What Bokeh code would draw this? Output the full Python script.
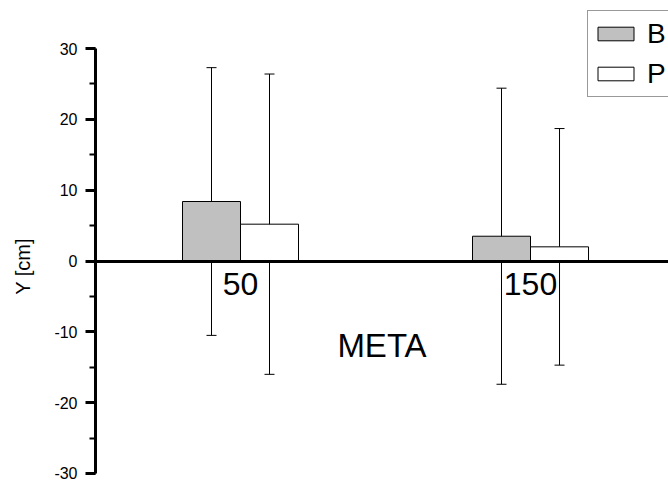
import math
from bokeh.plotting import figure
from bokeh.models import (ColumnDataSource, Range1d, LinearAxis, FixedTicker, Label,
                          SingleIntervalTicker, Whisker, TeeHead, Legend, LegendItem)
from bokeh.transform import dodge
from bokeh.embed import file_html
from bokeh.resources import INLINE

# ---- data ----
groups = [50, 150]
group_labels = ["50", "150"]
b_vals = [8.4, 3.5]
p_vals = [5.2, 2.0]
b_err = [18.9, 20.9]
p_err = [21.2, 16.7]
series_names = ["B", "P"]
y_tick_values = [-30, -20, -10, 0, 10, 20, 30]
y_tick_labels = ["-30", "-20", "-10", "0", "10", "20", "30"]
y_title = "Y [cm]"
x_title = "META"

FONT = "Liberation Sans"

src_b = ColumnDataSource(dict(x=groups, y=b_vals,
                              upper=[v + e for v, e in zip(b_vals, b_err)],
                              lower=[v - e for v, e in zip(b_vals, b_err)]))
src_p = ColumnDataSource(dict(x=groups, y=p_vals,
                              upper=[v + e for v, e in zip(p_vals, p_err)],
                              lower=[v - e for v, e in zip(p_vals, p_err)]))

# frame covers the whole canvas; axes are drawn at fixed data locations
p = figure(width=668, height=481, output_backend="svg", toolbar_location=None,
           x_range=Range1d(-32.76, 197.58), y_range=Range1d(-31.13, 36.78),
           x_axis_location=None, y_axis_location=None,
           min_border_left=0, min_border_top=0, min_border_bottom=0, min_border_right=0)
p.grid.visible = False
p.outline_line_color = None
p.background_fill_color = "white"
p.border_fill_color = "white"

rb = p.vbar(x=dodge("x", -10), top="y", bottom=0, width=20, source=src_b,
            fill_color="#c0c0c0", line_color="black", line_width=1)
rp = p.vbar(x=dodge("x", 10), top="y", bottom=0, width=20, source=src_p,
            fill_color="white", line_color="black", line_width=1)

for src, off in ((src_b, -10), (src_p, 10)):
    w = Whisker(source=src, base=dodge("x", off), upper="upper", lower="lower",
                line_color="black", line_width=1,
                upper_head=TeeHead(size=10, line_color="black", line_width=1),
                lower_head=TeeHead(size=10, line_color="black", line_width=1))
    p.add_layout(w)

# y axis at x = 0
ya = LinearAxis(fixed_location=0, bounds=(-30, 30),
                ticker=SingleIntervalTicker(interval=10, num_minor_ticks=2),
                major_label_overrides={v: l for v, l in zip(y_tick_values, y_tick_labels)})
ya.axis_line_width = 3
ya.axis_line_color = "black"
ya.major_tick_line_width = 3
ya.minor_tick_line_width = 2
ya.major_tick_line_color = "black"
ya.minor_tick_line_color = "black"
ya.major_tick_out = 10
ya.major_tick_in = 0
ya.minor_tick_out = 6
ya.minor_tick_in = 0
ya.major_label_standoff = 8
ya.major_label_text_font = FONT
ya.major_label_text_font_size = "16px"
ya.major_label_text_color = "black"
p.add_layout(ya, "left")

# y title beside the axis, centred on the -30..30 span
ytitle = Label(x=22.5, y=215, x_units="screen", y_units="screen", text=y_title,
               angle=math.pi / 2, text_align="center", text_baseline="middle",
               text_font=FONT, text_font_size="20px", text_color="black")
p.add_layout(ytitle)

# x axis at y = 0
xa = LinearAxis(fixed_location=0, bounds=(0, 200), ticker=FixedTicker(ticks=groups),
                major_label_overrides={g: l for g, l in zip(groups, group_labels)})
xa.axis_line_width = 3
xa.axis_line_color = "black"
xa.major_tick_line_color = None
xa.minor_tick_line_color = None
xa.major_tick_out = 0
xa.major_tick_in = 0
xa.major_label_standoff = 12
xa.major_label_text_font = FONT
xa.major_label_text_font_size = "32px"
xa.major_label_text_color = "black"
xa.axis_label = x_title
xa.axis_label_text_font = FONT
xa.axis_label_text_font_size = "33px"
xa.axis_label_text_font_style = "normal"
xa.axis_label_text_color = "black"
xa.axis_label_standoff = 28
p.add_layout(xa, "below")

legend = Legend(items=[LegendItem(label=series_names[0], renderers=[rb]),
                       LegendItem(label=series_names[1], renderers=[rp])],
                location=(587, 384))
legend.label_text_font = FONT
legend.label_text_font_size = "28px"
legend.label_text_color = "black"
legend.glyph_width = 45
legend.glyph_height = 17
legend.label_height = 35
legend.spacing = 5
legend.padding = 5
legend.margin = 0
legend.label_standoff = 9
legend.border_line_color = "#333333"
legend.border_line_width = 1
legend.background_fill_alpha = 1
p.add_layout(legend, "center")

open("out.html", "w").write(file_html(p, INLINE))
